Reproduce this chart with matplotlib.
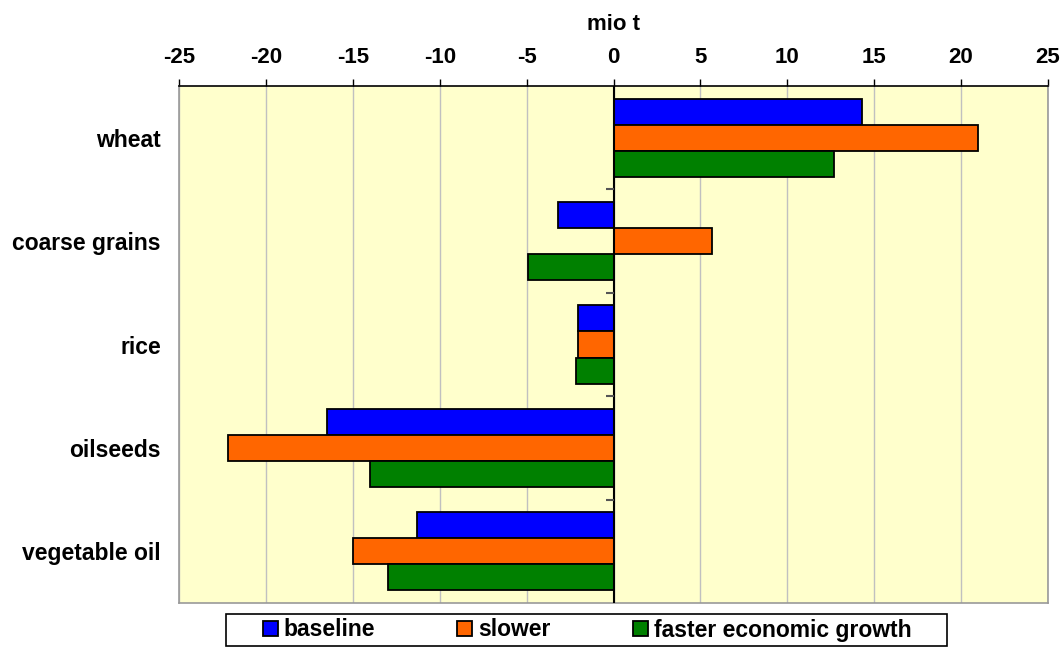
import matplotlib
matplotlib.use("Agg")
import matplotlib.pyplot as plt
import numpy as np
from matplotlib.lines import TICKLEFT
from matplotlib.patches import Rectangle

plt.rcParams["font.family"] = ["Liberation Sans", "DejaVu Sans"]
plt.rcParams["font.weight"] = "bold"

categories = ["wheat", "coarse grains", "rice", "oilseeds", "vegetable oil"]
baseline = [14.3, -3.2, -2.07, -16.5, -11.3]
slower = [21.0, 5.65, -2.03, -22.2, -15.0]
faster = [12.7, -4.9, -2.15, -14.0, -13.0]
series = [
    ("baseline", baseline, "#0000FF"),
    ("slower", slower, "#FF6600"),
    ("faster economic growth", faster, "#008000"),
]
xticks = [-25, -20, -15, -10, -5, 0, 5, 10, 15, 20, 25]

W, H = 1063, 648
fig = plt.figure(figsize=(W / 100, H / 100), dpi=100)
ax = fig.add_axes([179 / W, 1 - 603 / H, 869 / W, 517 / H])
ax.set_facecolor("#FFFFCC")

y = np.arange(len(categories))
h = 0.252
for i, (name, vals, col) in enumerate(series):
    ax.barh(y + (i - 1) * h, vals, height=h, color=col, edgecolor="black",
            linewidth=1.3, label=name, zorder=3)

ax.set_xlim(-25, 25)
ax.set_ylim(len(categories) - 0.5, -0.5)
ax.set_xticks(xticks)
ax.set_xticklabels([str(t) for t in xticks])
ax.xaxis.tick_top()
ax.xaxis.set_label_position("top")
ax.set_xlabel("mio t", fontsize=16, fontweight="bold", labelpad=12)
ax.tick_params(axis="x", direction="out", length=5, width=1, pad=8,
               labelsize=16, color="black")
ax.set_yticks(y)
ax.set_yticklabels(categories, fontsize=16.5, fontweight="bold")
ax.tick_params(axis="y", length=0, pad=13)
ax.grid(axis="x", color="#c0c0c0", linewidth=1, zorder=0)

# zero axis with category separators
ax.axvline(0, color="black", linewidth=1.5, zorder=4)
ax.plot([0] * (len(categories) - 1), y[:-1] + 0.5, ls="none", marker=TICKLEFT,
        markersize=6, markeredgewidth=1.5, color="#555555", zorder=4)

for side in ["left", "right", "bottom"]:
    ax.spines[side].set_color("#999999")
    ax.spines[side].set_linewidth(1.2)
ax.spines["top"].set_color("black")
ax.spines["top"].set_linewidth(1.2)

# legend box
fig.patches.append(Rectangle((226 / W, 1 - 646 / H), 721 / W, 32 / H,
                             transform=fig.transFigure, facecolor="white",
                             edgecolor="black", linewidth=1.2))
fig.legend(loc="center", bbox_to_anchor=(587 / W, 1 - 630 / H), ncol=3,
           frameon=False, fontsize=16.5, handlelength=0.65, handleheight=0.65,
           handletextpad=0.25, columnspacing=3.6, borderpad=0.2, borderaxespad=0)

fig.savefig("out.png", dpi=100)
